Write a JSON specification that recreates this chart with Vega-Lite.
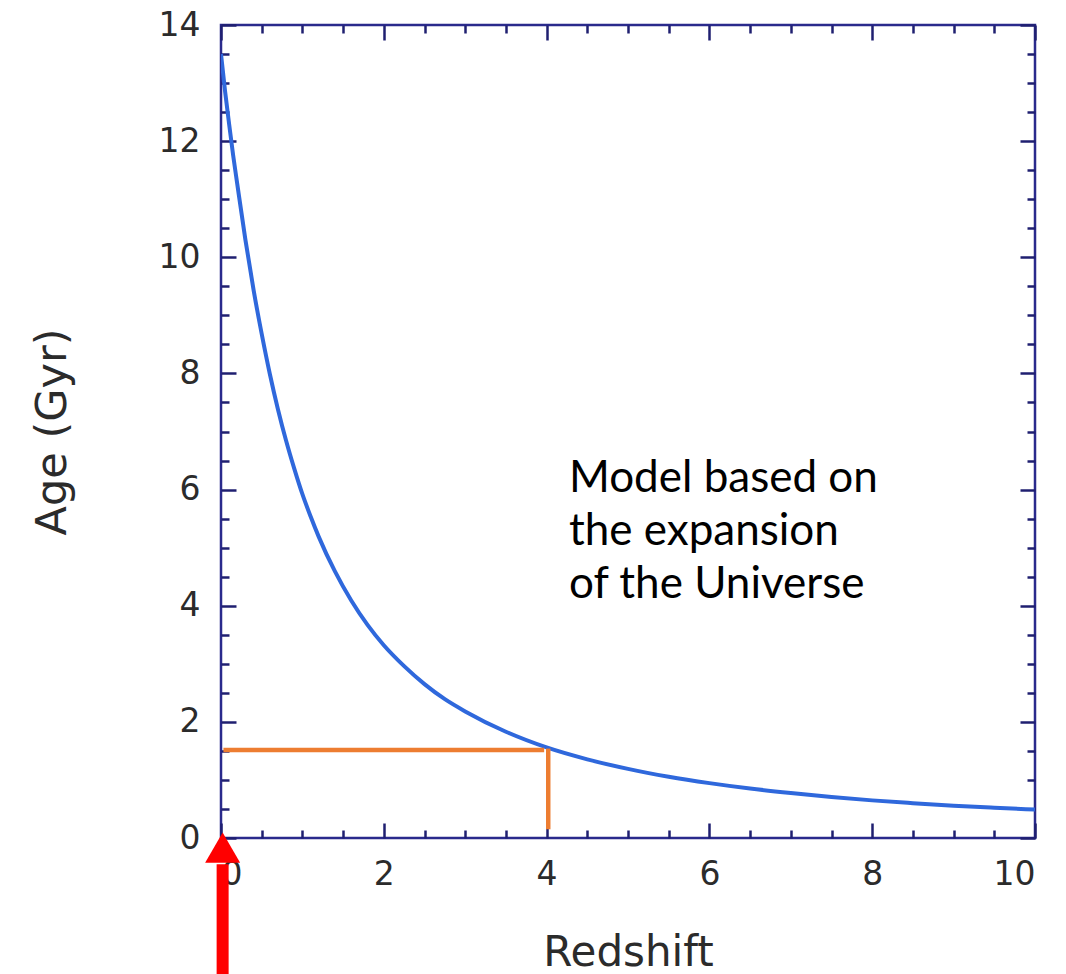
{
  "$schema": "https://vega.github.io/schema/vega-lite/v6.json",
  "width": 814,
  "height": 813,
  "autosize": {"type": "none"},
  "padding": {"left": 221, "top": 25, "right": 31, "bottom": 136},
  "background": "white",
  "config": {
    "view": {"stroke": "#2a2a8c", "strokeWidth": 2.5},
    "axis": {
      "labelFont": "DejaVu Sans",
      "labelFontSize": 33,
      "labelColor": "#2b2b2b",
      "titleFont": "DejaVu Sans",
      "titleFontSize": 42,
      "titleFontWeight": "normal",
      "titleColor": "#2b2b2b",
      "tickColor": "#1f1f70",
      "tickWidth": 2.5,
      "grid": false,
      "domain": false
    }
  },
  "datasets": {
    "curve": [
      {"z": 0, "age": 13.5},
      {"z": 0.05, "age": 12.86},
      {"z": 0.1, "age": 12.29},
      {"z": 0.15, "age": 11.75},
      {"z": 0.2, "age": 11.26},
      {"z": 0.3, "age": 10.3},
      {"z": 0.4, "age": 9.44},
      {"z": 0.5, "age": 8.68},
      {"z": 0.6, "age": 7.99},
      {"z": 0.7, "age": 7.38},
      {"z": 0.8, "age": 6.84},
      {"z": 0.9, "age": 6.36},
      {"z": 1.0, "age": 5.92},
      {"z": 1.1, "age": 5.54},
      {"z": 1.2, "age": 5.19},
      {"z": 1.4, "age": 4.59},
      {"z": 1.6, "age": 4.09},
      {"z": 1.8, "age": 3.67},
      {"z": 2.0, "age": 3.32},
      {"z": 2.25, "age": 2.96},
      {"z": 2.5, "age": 2.65},
      {"z": 2.75, "age": 2.39},
      {"z": 3.0, "age": 2.18},
      {"z": 3.5, "age": 1.83},
      {"z": 4.0, "age": 1.56},
      {"z": 4.5, "age": 1.355},
      {"z": 5.0, "age": 1.19},
      {"z": 5.5, "age": 1.055},
      {"z": 6.0, "age": 0.945},
      {"z": 6.5, "age": 0.852},
      {"z": 7.0, "age": 0.775},
      {"z": 7.5, "age": 0.707},
      {"z": 8.0, "age": 0.648},
      {"z": 8.5, "age": 0.6},
      {"z": 9.0, "age": 0.557},
      {"z": 9.5, "age": 0.521},
      {"z": 10.0, "age": 0.489}
    ],
    "guides": [
      {"x": 0.03, "x2": 3.97, "y": 1.515, "y2": 1.515},
      {"x": 4.02, "x2": 4.02, "y": 1.54, "y2": 0.15}
    ],
    "arrow": [
      {"x": 0.02, "y": -0.45, "y2": -2.45}
    ],
    "head": [
      {"x": 0.02, "y": -0.165}
    ],
    "note": [
      {"x": 4.275, "y": 5.96, "label": "Model based on\nthe expansion\nof the Universe"}
    ]
  },
  "layer": [
    {
      "data": {"name": "curve"},
      "mark": {"type": "line", "color": "#2f68dc", "strokeWidth": 4, "clip": true, "interpolate": "monotone"},
      "encoding": {
        "x": {
          "field": "z", "type": "quantitative",
          "scale": {"domain": [0, 10], "nice": false, "zero": false},
          "axis": {
            "orient": "bottom", "values": [0, 2, 4, 6, 8, 10], "ticks": false,
            "labelPadding": 20, "title": "Redshift",
            "titleBaseline": "alphabetic", "titleY": 127
          }
        },
        "y": {
          "field": "age", "type": "quantitative",
          "scale": {"domain": [0, 14], "nice": false, "zero": false},
          "axis": {
            "orient": "left", "values": [0, 2, 4, 6, 8, 10, 12, 14], "ticks": false,
            "labelPadding": 21, "title": "Age (Gyr)", "titleFontSize": 43,
            "titleBaseline": "alphabetic", "titleX": -156
          }
        }
      }
    },
    {
      "data": {"name": "guides"},
      "mark": {"type": "rule", "color": "#ed7d31", "strokeWidth": 4.5},
      "encoding": {
        "x": {
          "field": "x", "type": "quantitative",
          "axis": {
            "orient": "bottom",
            "values": [0, 0.5, 1, 1.5, 2, 2.5, 3, 3.5, 4, 4.5, 5, 5.5, 6, 6.5, 7, 7.5, 8, 8.5, 9, 9.5, 10],
            "labels": false, "title": null,
            "tickSize": {"condition": {"test": "datum.value % 2 === 0", "value": -15}, "value": -8}
          }
        },
        "x2": {"field": "x2"},
        "y": {
          "field": "y", "type": "quantitative",
          "axis": {
            "orient": "left",
            "values": [0, 0.5, 1, 1.5, 2, 2.5, 3, 3.5, 4, 4.5, 5, 5.5, 6, 6.5, 7, 7.5, 8, 8.5, 9, 9.5, 10, 10.5, 11, 11.5, 12, 12.5, 13, 13.5, 14],
            "labels": false, "title": null,
            "tickSize": {"condition": {"test": "datum.value % 2 === 0", "value": -15}, "value": -8}
          }
        },
        "y2": {"field": "y2"}
      }
    },
    {
      "data": {"name": "arrow"},
      "mark": {"type": "rule", "color": "#ff0000", "strokeWidth": 12, "strokeCap": "butt"},
      "encoding": {
        "x": {
          "field": "x", "type": "quantitative",
          "axis": {
            "orient": "top",
            "values": [0, 0.5, 1, 1.5, 2, 2.5, 3, 3.5, 4, 4.5, 5, 5.5, 6, 6.5, 7, 7.5, 8, 8.5, 9, 9.5, 10],
            "labels": false, "title": null,
            "tickSize": {"condition": {"test": "datum.value % 2 === 0", "value": -15}, "value": -8}
          }
        },
        "y": {
          "field": "y", "type": "quantitative",
          "axis": {
            "orient": "right",
            "values": [0, 0.5, 1, 1.5, 2, 2.5, 3, 3.5, 4, 4.5, 5, 5.5, 6, 6.5, 7, 7.5, 8, 8.5, 9, 9.5, 10, 10.5, 11, 11.5, 12, 12.5, 13, 13.5, 14],
            "labels": false, "title": null,
            "tickSize": {"condition": {"test": "datum.value % 2 === 0", "value": -15}, "value": -8}
          }
        },
        "y2": {"field": "y2"}
      }
    },
    {
      "data": {"name": "head"},
      "mark": {"type": "point", "shape": "triangle-up", "size": 1225, "filled": true, "color": "#ff0000", "opacity": 1},
      "encoding": {
        "x": {"field": "x", "type": "quantitative", "axis": null},
        "y": {"field": "y", "type": "quantitative", "axis": null}
      }
    },
    {
      "data": {"name": "note"},
      "mark": {"type": "text", "font": "Lato", "fontSize": 44, "align": "left", "baseline": "alphabetic", "lineBreak": "\n", "lineHeight": 53, "color": "#000000"},
      "encoding": {
        "x": {"field": "x", "type": "quantitative", "axis": null},
        "y": {"field": "y", "type": "quantitative", "axis": null},
        "text": {"field": "label"}
      }
    }
  ],
  "resolve": {"axis": {"x": "independent", "y": "independent"}}
}
